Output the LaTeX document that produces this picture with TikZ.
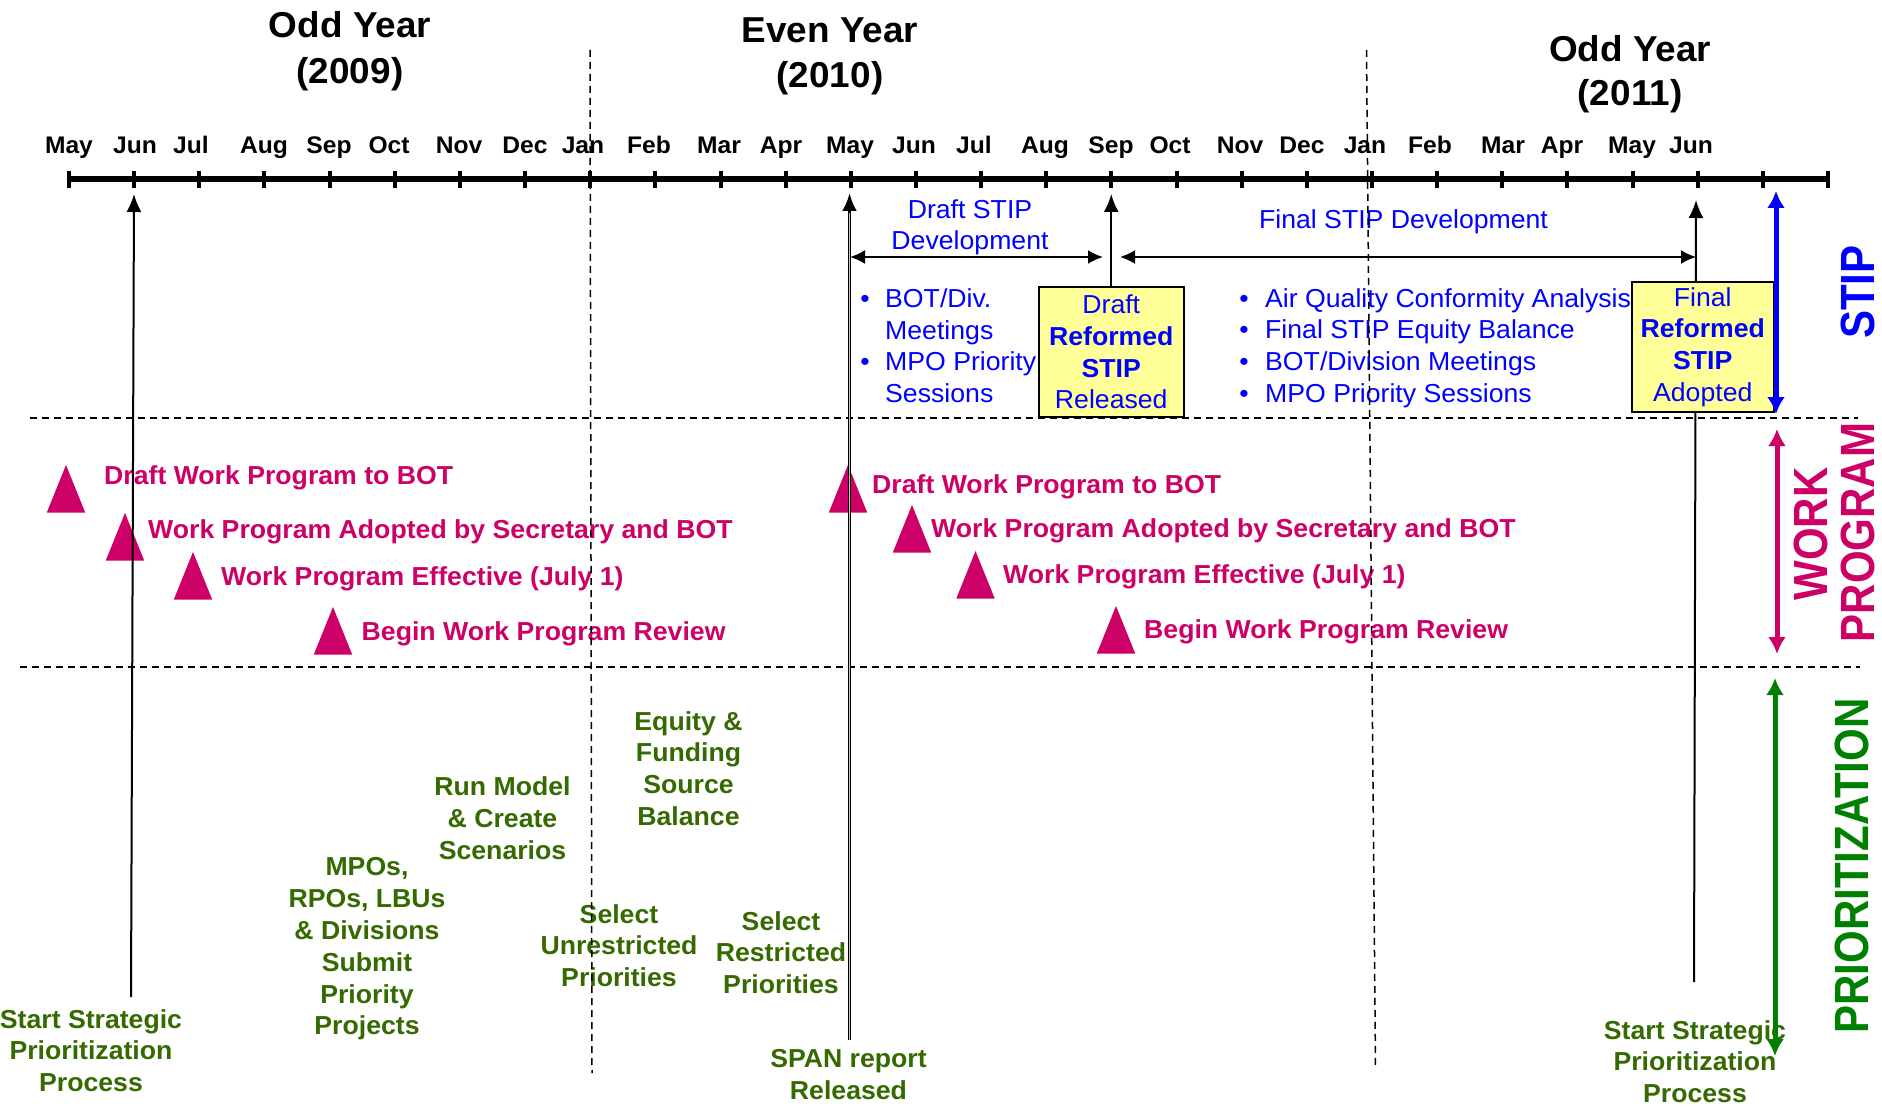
\documentclass[tikz,border=0pt]{standalone}
\usepackage{fontspec}
\setmainfont{Liberation Sans}[FakeStretch=1.025]
\newfontfamily\rotfont{Liberation Sans}[FakeStretch=0.875]
\usetikzlibrary{arrows.meta,calc}
\definecolor{stipblue}{RGB}{0,0,255}
\definecolor{wpmag}{RGB}{204,0,102}
\definecolor{prgreen}{RGB}{0,128,0}
\definecolor{txtgreen}{RGB}{53,106,0}
\definecolor{boxyellow}{RGB}{255,255,153}
\begin{document}
\begin{tikzpicture}[x=1pt,y=-1pt,
  axisline/.style={line width=6pt},
  tickmark/.style={line width=4pt},
  month/.style={font=\fontsize{24}{28}\selectfont\bfseries, anchor=base, inner sep=0pt},
  yeartitle/.style={font=\fontsize{36}{44}\selectfont\bfseries, anchor=base, inner sep=0pt},
  stiptxt/.style={text=stipblue, font=\fontsize{26}{31}\selectfont, inner sep=0pt},
  bulletline/.style={stiptxt, anchor=base west},
  bulletdot/.style={stiptxt, anchor=base},
  wptxt/.style={text=wpmag, font=\fontsize{26}{32}\selectfont\bfseries, anchor=base west, inner sep=0pt},
  prtxt/.style={text=txtgreen, font=\fontsize{26}{31.8}\selectfont\bfseries, align=center, inner sep=0pt},
  stipbox/.style={draw=black, line width=2pt, fill=boxyellow, inner sep=0pt, align=center,
    text=stipblue, font=\fontsize{26}{31.7}\selectfont},
  sidelabel/.style={font=\rotfont\fontsize{48}{50}\selectfont\bfseries, rotate=90, inner sep=0pt},
  blackarrow/.style={draw=black, line width=2pt, -{Latex[length=18pt,width=15pt]}},
  durarrow/.style={draw=black, line width=2pt, {Latex[length=15pt,width=14pt]}-{Latex[length=15pt,width=14pt]}},
  sidearrow/.style={line width=5pt, {Latex[length=17pt,width=18pt]}-{Latex[length=17pt,width=18pt]}},
  divider/.style={draw=black, line width=1.5pt, dash pattern=on 7pt off 5pt},
  wptri/.style={fill=wpmag}
]
\useasboundingbox[fill=white] (0,0) rectangle (1882,1110);

% ---- work program triangles
\foreach \x/\y [count=\k] in {66/465, 125/513, 193/552, 333/607, 848/465, 912/505, 975.5/551, 1116/606}
  \fill[wptri] (\x,\y) -- ++(-19.2,47.5) -- ++(38.4,0) -- cycle;

% ---- titles
\node[yeartitle] (odd09a) at (350,38) {Odd Year};
\node[yeartitle] (odd09b) at (350,84) {(2009)};
\node[yeartitle] (even10a) at (830,43) {Even Year};
\node[yeartitle] (even10b) at (830,88) {(2010)};
\node[yeartitle] (odd11a) at (1630,61.5) {Odd Year};
\node[yeartitle] (odd11b) at (1630,105.5) {(2011)};

% ---- months
\foreach \m/\x [count=\k] in {May/69, Jun/135, Jul/191, Aug/264, Sep/329, Oct/389, Nov/459, Dec/525,
  Jan/583, Feb/649, Mar/719, Apr/781, May/850, Jun/914, Jul/974, Aug/1045, Sep/1111, Oct/1170,
  Nov/1240, Dec/1302, Jan/1365, Feb/1430, Mar/1503, Apr/1562, May/1632, Jun/1691}
  \node[month] (m\k) at (\x,154) {\m};

% ---- STIP texts
\node[stiptxt, align=center] (draftdev) at (970,227) {Draft STIP\\Development};
\node[stiptxt, anchor=base] (finaldev) at (1403.5,229) {Final STIP Development};
\node[bulletdot] (bl1) at (865,307) {•};
\node[bulletline] (l1) at (885,307) {BOT/Div.};
\node[bulletline] (l2) at (885,339) {Meetings};
\node[bulletdot] (bl3) at (865,370) {•};
\node[bulletline] (l3) at (885,370) {MPO Priority};
\node[bulletline] (l4) at (885,402) {Sessions};
\node[bulletdot] (br1) at (1244,307) {•};
\node[bulletline] (r1) at (1265,307) {Air Quality Conformity Analysis};
\node[bulletdot] (br2) at (1244,338) {•};
\node[bulletline] (r2) at (1265,338) {Final STIP Equity Balance};
\node[bulletdot] (br3) at (1244,370) {•};
\node[bulletline] (r3) at (1265,370) {BOT/Division Meetings};
\node[bulletdot] (br4) at (1244,402) {•};
\node[bulletline] (r4) at (1265,402) {MPO Priority Sessions};

% ---- work program texts
\node[wptxt] (w1) at (104,484.5) {Draft Work Program to BOT};
\node[wptxt] (w2) at (148,538.5) {Work Program Adopted by Secretary and BOT};
\node[wptxt] (w3) at (221,585) {Work Program Effective (July 1)};
\node[wptxt] (w4) at (361.5,640) {Begin Work Program Review};
\node[wptxt] (w5) at (872,493.3) {Draft Work Program to BOT};
\node[wptxt] (w6) at (931,537.3) {Work Program Adopted by Secretary and BOT};
\node[wptxt] (w7) at (1003,583.3) {Work Program Effective (July 1)};
\node[wptxt] (w8) at (1144,638.3) {Begin Work Program Review};

% ---- prioritization texts
\node[prtxt] (ssp09) at (91,1050.5) {Start Strategic\\Prioritization\\Process};
\node[prtxt] (mpos) at (367,949) {MPOs,\\RPOs, LBUs\\\& Divisions\\Submit\\Priority\\Projects};
\node[prtxt] (runmodel) at (502.5,818) {Run Model\\\& Create\\Scenarios};
\node[prtxt] (equity) at (688.5,768.5) {Equity \&\\Funding\\Source\\Balance};
\node[prtxt] (selunres) at (619,945.5) {Select\\Unrestricted\\Priorities};
\node[prtxt] (selres) at (781,952.5) {Select\\Restricted\\Priorities};
\node[prtxt] (span) at (848.5,1074.5) {SPAN report\\Released};
\node[prtxt] (ssp11) at (1695,1061.5) {Start Strategic\\Prioritization\\Process};

% ---- dividers
\draw[divider] (590,50) -- (592,1073);
\draw[divider] (1366.5,50) -- (1375.5,1067);
\draw[divider] (30,418) -- (1858,418);
\draw[divider] (20,667) -- (1860,667);

% ---- milestone arrows
\coordinate (jun09B) at (131,997);
\coordinate (jun09T) at (134,194);
\draw[blackarrow] (jun09B) -- (jun09T);
\coordinate (spanB) at (849.5,1040);
\coordinate (spanT) at (849.5,193);
\draw[blackarrow, line width=3.4pt] (spanB) -- (spanT);
\draw[gray!45, line width=0.9pt] (spanB) -- ($(spanT)+(0,20)$);
\coordinate (jun11B) at (1694,982);
\coordinate (jun11T) at (1696,200);
\draw[blackarrow] (jun11B) -- (jun11T);

% ---- boxes
\node[stipbox, minimum width=144.5pt, minimum height=130pt] (draftbox) at (1111.25,352)
  {Draft\\\textbf{Reformed}\\\textbf{STIP}\\Released};
\node[stipbox, minimum width=141.5pt, minimum height=130pt] (finalbox) at (1702.75,347)
  {Final\\\textbf{Reformed}\\\textbf{STIP}\\Adopted};
\coordinate (sepT) at (1111.25,194);
\draw[blackarrow] (draftbox.north) -- (sepT);

% ---- duration arrows
\coordinate (dsL) at (850,257);
\coordinate (dsR) at (1103,257);
\draw[durarrow] (dsL) -- (dsR);
\coordinate (fsL) at (1120,257);
\coordinate (fsR) at (1696,257);
\draw[durarrow] (fsL) -- (fsR);

% ---- axis
\draw[axisline] (69,179.5) coordinate (axL) -- (1828,179.5) coordinate (axR);
\foreach \i in {0,...,27}
  \draw[tickmark] ({69+65.15*\i},171) -- ({69+65.15*\i},188);

% ---- side arrows and labels
\coordinate (stipT) at (1776,191);
\coordinate (stipB) at (1776,414);
\draw[sidearrow, stipblue] (stipT) -- (stipB);
\coordinate (wpT) at (1777,429);
\coordinate (wpB) at (1777,654);
\draw[sidearrow, wpmag] (wpT) -- (wpB);
\coordinate (prT) at (1775,678);
\coordinate (prB) at (1775,1056);
\draw[sidearrow, prgreen] (prT) -- (prB);
\node[sidelabel, text=stipblue] (lstip) at (1858,292) {STIP};
\node[sidelabel, text=wpmag] (lwork) at (1811,534) {WORK};
\node[sidelabel, text=wpmag] (lprog) at (1858,532.5) {PROGRAM};
\node[sidelabel, text=prgreen] (lprio) at (1852,866) {PRIORITIZATION};
\end{tikzpicture}
\end{document}
